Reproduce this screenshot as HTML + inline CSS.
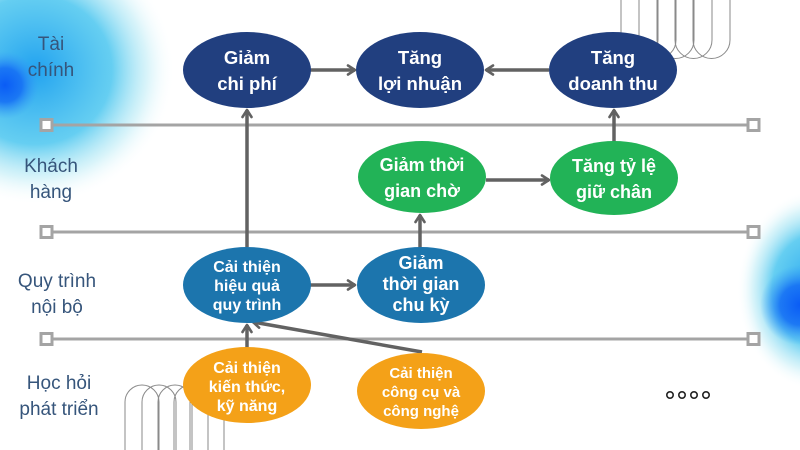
<!DOCTYPE html>
<html><head><meta charset="utf-8">
<style>
html,body{margin:0;padding:0;background:#fff;}
svg{display:block;}
text{font-family:"Liberation Sans","DejaVu Sans",sans-serif;}
.n{fill:#fff;font-weight:bold;text-anchor:middle;}
.l{fill:#36557b;font-size:19px;text-anchor:middle;}
</style></head>
<body>
<svg width="800" height="450" viewBox="0 0 800 450" xmlns="http://www.w3.org/2000/svg">
<defs>
<radialGradient id="g1" cx="0.5" cy="0.5" r="0.5">
<stop offset="0" stop-color="#22a2f0" stop-opacity="1"/>
<stop offset="0.55" stop-color="#3fc2ee" stop-opacity="0.8"/>
<stop offset="0.8" stop-color="#9ee3f2" stop-opacity="0.4"/>
<stop offset="1" stop-color="#ffffff" stop-opacity="0"/>
</radialGradient>
<radialGradient id="g2" cx="0.5" cy="0.5" r="0.5">
<stop offset="0" stop-color="#0a5cf5"/>
<stop offset="0.5" stop-color="#1670f5" stop-opacity="0.9"/>
<stop offset="1" stop-color="#3aa0f5" stop-opacity="0"/>
</radialGradient>
<marker id="ah" viewBox="0 0 12 12" refX="10" refY="6" markerWidth="12" markerHeight="12" markerUnits="userSpaceOnUse" orient="auto">
<polyline points="3,1.5 10,6 3,10.5" fill="none" stroke="#626262" stroke-width="2.6" stroke-linecap="round" stroke-linejoin="round"/>
</marker>
</defs>

<!-- glows -->
<ellipse cx="35" cy="70" rx="140" ry="135" fill="url(#g1)"/>
<circle cx="5" cy="85" r="34" fill="url(#g2)"/>
<ellipse cx="815" cy="290" rx="78" ry="100" fill="url(#g1)"/>
<circle cx="800" cy="305" r="40" fill="url(#g2)"/>

<!-- arch decorations top right -->
<g fill="none" stroke="#8a8a8a" stroke-width="1">
<path d="M621,-2 V40 A18.5,18.5 0 0 0 658,40 V-2"/>
<path d="M639,-2 V40 A18.5,18.5 0 0 0 676,40 V-2"/>
<path d="M657,-2 V40 A18.5,18.5 0 0 0 694,40 V-2"/>
<path d="M675,-2 V40 A18.5,18.5 0 0 0 712,40 V-2"/>
<path d="M693,-2 V40 A18.5,18.5 0 0 0 730,40 V-2"/>
</g>
<!-- arch decorations bottom left -->
<g fill="none" stroke="#8a8a8a" stroke-width="1">
<path d="M125,452 V402 A17,17 0 0 1 159,402 V452"/>
<path d="M142,452 V402 A17,17 0 0 1 176,402 V452"/>
<path d="M158,452 V402 A17,17 0 0 1 192,402 V452"/>
<path d="M174,452 V402 A17,17 0 0 1 208,402 V452"/>
<path d="M190,452 V402 A17,17 0 0 1 224,402 V452"/>
</g>

<!-- lanes -->
<g stroke="#a4a4a4" stroke-width="3" fill="#fff">
<line x1="53" y1="125" x2="747" y2="125"/>
<line x1="53" y1="232" x2="747" y2="232"/>
<line x1="53" y1="339" x2="747" y2="339"/>
<rect x="41" y="119.5" width="11" height="11"/>
<rect x="748" y="119.5" width="11" height="11"/>
<rect x="41" y="226.5" width="11" height="11"/>
<rect x="748" y="226.5" width="11" height="11"/>
<rect x="41" y="333.5" width="11" height="11"/>
<rect x="748" y="333.5" width="11" height="11"/>
</g>

<!-- left labels -->
<text class="l" x="51" y="50">Tài</text>
<text class="l" x="51" y="76">chính</text>
<text class="l" x="51" y="172">Khách</text>
<text class="l" x="51" y="198">hàng</text>
<text class="l" x="57" y="287">Quy trình</text>
<text class="l" x="57" y="313">nội bộ</text>
<text class="l" x="59" y="389">Học hỏi</text>
<text class="l" x="59" y="415">phát triển</text>

<!-- connectors -->
<g stroke="#626262" stroke-width="3.5" fill="none" marker-end="url(#ah)">
<line x1="310" y1="70" x2="355" y2="70"/>
<line x1="549" y1="70" x2="486" y2="70"/>
<line x1="614" y1="142" x2="614" y2="110"/>
<line x1="486" y1="180" x2="549" y2="180"/>
<line x1="420" y1="248" x2="420" y2="215"/>
<line x1="247" y1="247" x2="247" y2="110"/>
<line x1="310" y1="285" x2="355" y2="285"/>
<line x1="247" y1="348" x2="247" y2="325"/>
<line x1="422" y1="352" x2="253" y2="322"/>
</g>

<!-- nodes -->
<ellipse cx="247" cy="70" rx="64" ry="38" fill="#213f7f"/>
<ellipse cx="420" cy="70" rx="64" ry="38" fill="#213f7f"/>
<ellipse cx="613" cy="70" rx="64" ry="38" fill="#213f7f"/>
<ellipse cx="422" cy="177" rx="64" ry="36" fill="#22b357"/>
<ellipse cx="614" cy="178" rx="64" ry="37" fill="#22b357"/>
<ellipse cx="247" cy="285" rx="64" ry="38" fill="#1c75ad"/>
<ellipse cx="421" cy="285" rx="64" ry="38" fill="#1c75ad"/>
<ellipse cx="247" cy="385" rx="64" ry="38" fill="#f4a118"/>
<ellipse cx="421" cy="391" rx="64" ry="38" fill="#f4a118"/>

<g font-size="18.5">
<text class="n" x="247" y="64">Giảm</text>
<text class="n" x="247" y="90">chi phí</text>
<text class="n" x="420" y="64">Tăng</text>
<text class="n" x="420" y="90">lợi nhuận</text>
<text class="n" x="613" y="64">Tăng</text>
<text class="n" x="613" y="90">doanh thu</text>
</g>
<g font-size="18">
<text class="n" x="422" y="171">Giảm thời</text>
<text class="n" x="422" y="197">gian chờ</text>
<text class="n" x="614" y="172">Tăng tỷ lệ</text>
<text class="n" x="614" y="198">giữ chân</text>
</g>
<g font-size="16">
<text class="n" x="247" y="272">Cải thiện</text>
<text class="n" x="247" y="291">hiệu quả</text>
<text class="n" x="247" y="310">quy trình</text>
<text class="n" x="421" y="269" font-size="18">Giảm</text>
<text class="n" x="421" y="290" font-size="18">thời gian</text>
<text class="n" x="421" y="311" font-size="18">chu kỳ</text>
<text class="n" x="247" y="373">Cải thiện</text>
<text class="n" x="247" y="392">kiến thức,</text>
<text class="n" x="247" y="411">kỹ năng</text>
<text class="n" x="421" y="378" font-size="15">Cải thiện</text>
<text class="n" x="421" y="397" font-size="15">công cụ và</text>
<text class="n" x="421" y="416" font-size="15">công nghệ</text>
</g>

<!-- dots -->
<g fill="none" stroke="#222" stroke-width="1.6">
<circle cx="670" cy="395" r="3.2"/>
<circle cx="682" cy="395" r="3.2"/>
<circle cx="694" cy="395" r="3.2"/>
<circle cx="706" cy="395" r="3.2"/>
</g>
</svg>
</body></html>
